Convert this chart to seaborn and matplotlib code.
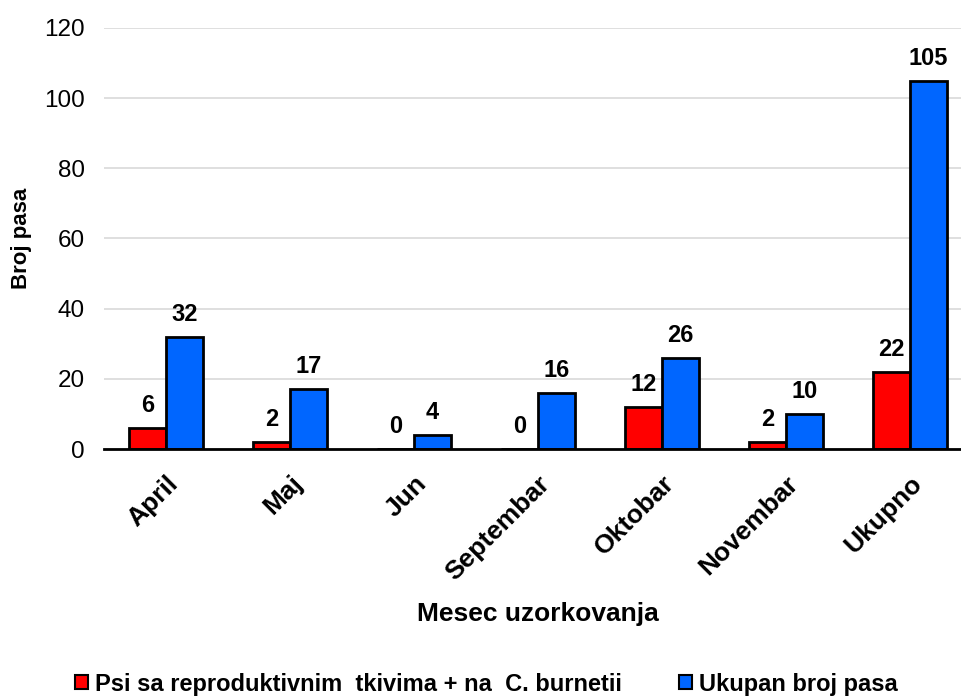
import matplotlib
matplotlib.use("Agg")
import matplotlib.pyplot as plt
import seaborn as sns
import pandas as pd

months = ["April", "Maj", "Jun", "Septembar", "Oktobar", "Novembar", "Ukupno"]
positive = [6, 2, 0, 0, 12, 2, 22]
total = [32, 17, 4, 16, 26, 10, 105]
series_names = ["Psi sa reproduktivnim  tkivima + na  C. burnetii", "Ukupan broj pasa"]
colors = ["#ff0000", "#0066ff"]
yticks = [0, 20, 40, 60, 80, 100, 120]

df = pd.DataFrame({
    "Mesec": months * 2,
    "Broj": positive + total,
    "Grupa": [series_names[0]] * len(months) + [series_names[1]] * len(months),
})

sns.set_theme(style="white")
plt.rcParams["font.family"] = ["Liberation Sans", "DejaVu Sans"]
plt.rcParams["text.color"] = "black"
plt.rcParams["xtick.color"] = "black"
plt.rcParams["ytick.color"] = "black"
plt.rcParams["axes.labelcolor"] = "black"

W, H = 961, 696
fig = plt.figure(figsize=(W / 100, H / 100), dpi=100)
ax = fig.add_axes([104 / W, 1 - 449 / H, 1 - 104 / W, (449 - 28) / H])

sns.barplot(data=df, x="Mesec", y="Broj", hue="Grupa", order=months,
            hue_order=series_names, palette=colors, width=0.6,
            edgecolor="black", linewidth=2, saturation=1, ax=ax, legend=True)

ax.set_ylim(0, 120)
ax.set_xlim(-0.5, -0.5 + 857 / 124)
ax.set_yticks(yticks)
ax.yaxis.grid(True, color="#d9d9d9", linewidth=1.2)
ax.set_axisbelow(True)
for side in ["left", "right", "top"]:
    ax.spines[side].set_visible(False)
ax.spines["bottom"].set_color("black")
ax.spines["bottom"].set_linewidth(2)
ax.tick_params(axis="y", labelsize=17.5, length=0, pad=14)
ax.tick_params(axis="x", length=0, pad=16)
plt.setp(ax.get_xticklabels(), rotation=45, ha="right", rotation_mode="anchor",
         fontsize=19, fontweight="bold")

ax.set_xlabel("")
ax.set_ylabel("")
fig.text(538 / W, 1 - 614 / H, "Mesec uzorkovanja", ha="center", va="center",
         fontsize=19, fontweight="bold")
fig.text(22 / W, 1 - 238 / H, "Broj pasa", ha="center", va="center",
         rotation=90, fontsize=16, fontweight="bold")

for cont in ax.containers:
    ax.bar_label(cont, fmt="%d", padding=8, fontsize=17, fontweight="bold")

handles, labels = ax.get_legend_handles_labels()
ax.legend_.remove()
leg = fig.legend(handles, labels, loc="center left",
                 bbox_to_anchor=(75 / W, 1 - 684 / H), borderaxespad=0, borderpad=0,
                 ncol=2, frameon=False, prop={"weight": "bold", "size": 17},
                 handlelength=0.55, handleheight=0.55, handletextpad=0.3,
                 columnspacing=2.4)
for h in leg.legend_handles:
    h.set_linewidth(1.5)
    h.set_edgecolor("black")

fig.savefig("out.png", dpi=100)
